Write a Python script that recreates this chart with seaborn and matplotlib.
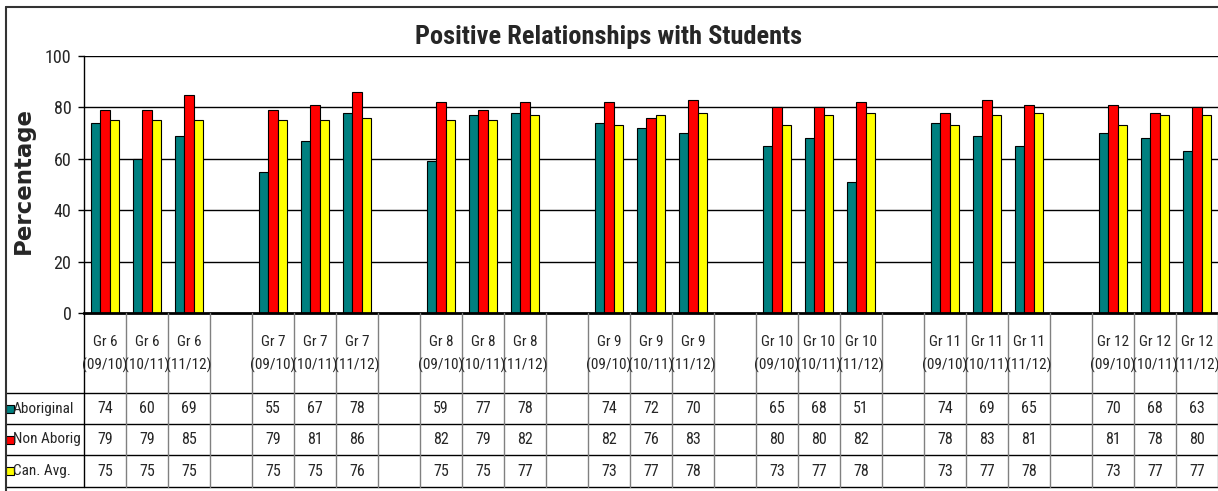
import matplotlib
matplotlib.use("Agg")
import matplotlib.pyplot as plt
from matplotlib.lines import Line2D
import numpy as np
import pandas as pd
import seaborn as sns

# ---- data -------------------------------------------------------------
grades = ["Gr 6", "Gr 7", "Gr 8", "Gr 9", "Gr 10", "Gr 11", "Gr 12"]
years = ["(09/10)", "(10/11)", "(11/12)"]
series = ["Aboriginal", "Non Aborig", "Can. Avg."]

aboriginal = [74, 60, 69, 55, 67, 78, 59, 77, 78, 74, 72, 70,
              65, 68, 51, 74, 69, 65, 70, 68, 63]
non_aborig = [79, 79, 85, 79, 81, 86, 82, 79, 82, 82, 76, 83,
              80, 80, 82, 78, 83, 81, 81, 78, 80]
can_avg = [75, 75, 75, 75, 75, 76, 75, 75, 77, 73, 77, 78,
           73, 77, 78, 73, 77, 78, 73, 77, 77]

colors = ["#008080", "#FF0000", "#FFFF00"]

# ---- build long-form table with blank separator columns ---------------
order = []          # category slots along x (includes empty separators)
labels = []         # two-line header text per slot ('' for separators)
for gi, g in enumerate(grades):
    for y in years:
        key = f"{g}\n{y}"
        order.append(key)
        labels.append(key)
    if gi < len(grades) - 1:
        order.append(f"sep{gi}")
        labels.append("")

real_cats = [f"{g}\n{y}" for g in grades for y in years]
values = {"Aboriginal": aboriginal, "Non Aborig": non_aborig, "Can. Avg.": can_avg}
rows = []
for s in series:
    for c, v in zip(real_cats, values[s]):
        rows.append({"cat": c, "series": s, "value": v})
df = pd.DataFrame(rows)

# ---- figure -----------------------------------------------------------
W, H = 1218, 491
sns.set_style("white")
fig = plt.figure(figsize=(W / 100, H / 100), dpi=100)
narrow = ["Roboto Condensed", "Archivo Narrow", "Liberation Sans"]
narrow_bold = ["Roboto Condensed", "Fira Sans Condensed", "Liberation Sans"]

x_left, x_right, y_top, y_zero, y_tab_bot = 84, 1218, 56, 313, 487
ax = fig.add_axes([x_left / W, (H - y_zero) / H,
                   (x_right - x_left) / W, (y_zero - y_top) / H])

sns.barplot(data=df, x="cat", y="value", hue="series", order=order,
            hue_order=series, palette=colors, width=0.69,
            edgecolor="black", linewidth=0.8, saturation=1,
            legend=False, ax=ax, zorder=3)

ax.set_xlim(-0.5, len(order) - 0.5)
ax.set_ylim(0, 100)
ax.set_yticks([0, 20, 40, 60, 80, 100])
ax.set_yticklabels(["0", "20", "40", "60", "80", "100"],
                   fontfamily=narrow, fontsize=13)
ax.tick_params(axis="y", direction="out", length=4, width=1,
               color="black", pad=5, left=True)
ax.set_xticks([])
ax.set_xlabel("")
ax.set_ylabel("")
for yv in [20, 40, 60, 80, 100]:
    ax.axhline(yv, color="black", lw=1, zorder=1)
for side in ["top", "right"]:
    ax.spines[side].set_visible(False)
ax.spines["left"].set_color("black")
ax.spines["left"].set_linewidth(1)
ax.spines["bottom"].set_color("black")
ax.spines["bottom"].set_linewidth(2)
ax.spines["bottom"].set_zorder(5)

# ---- data table under the chart --------------------------------------
col_px = (x_right - x_left) / len(order)
tab_left = 6
tax = fig.add_axes([tab_left / W, (H - y_tab_bot) / H,
                    (x_right - tab_left) / W, (y_tab_bot - y_zero) / H])
tax.set_xlim(-0.5 - (x_left - tab_left) / col_px, len(order) - 0.5)
tax.set_ylim(y_tab_bot - y_zero, 0)
tax.axis("off")

row_edges = [0, 80, 111, 142, 174]
first_x = -0.5
leg_x0 = tax.get_xlim()[0]
# horizontal rules of the data rows
for yb in row_edges[1:]:
    tax.plot([leg_x0, len(order) - 0.5], [yb, yb], color="black", lw=1,
             clip_on=False)
# vertical rules between columns
tax.plot([first_x, first_x], [0, row_edges[-1]], color="black", lw=1,
         clip_on=False)
for i in range(1, len(order) + 1):
    xb = first_x + i
    tax.plot([xb, xb], [0, row_edges[-1]], color="#808080", lw=1,
             clip_on=False)

# header text
hdr_mid = (row_edges[0] + row_edges[1]) / 2 + 1
for i, lab in enumerate(labels):
    if lab:
        tax.text(i, hdr_mid, lab, ha="center", va="center",
                 fontfamily=narrow, fontsize=11, linespacing=1.75)

# value rows with legend keys
for r, s in enumerate(series):
    ymid = (row_edges[r + 1] + row_edges[r + 2]) / 2
    tax.plot([leg_x0 + 0.085], [ymid], marker="s", ms=6,
             mfc=colors[r], mec="black", mew=0.8, clip_on=False)
    tax.text(leg_x0 + 0.16, ymid, s, ha="left", va="center",
             fontfamily=narrow, fontsize=11)
    vals = values[s]
    k = 0
    for i, lab in enumerate(labels):
        if lab:
            tax.text(i, ymid, str(vals[k]), ha="center", va="center",
                     fontfamily=narrow, fontsize=11.5)
            k += 1

# ---- title, axis label, outer frame ----------------------------------
fig.text(0.5, 1 - 37 / H, "Positive Relationships with Students",
         ha="center", va="center", fontfamily=narrow_bold, fontsize=19,
         fontweight="bold")
fig.text(23 / W, 1 - 181 / H, "Percentage", rotation=90, ha="center",
         va="center", fontfamily=["DejaVu Sans"], fontsize=16.5,
         fontweight="bold")
fig.add_artist(Line2D([6 / W, 6 / W], [0, 1 - 7 / H], color="#333333",
                      lw=1.5, transform=fig.transFigure))
fig.add_artist(Line2D([6 / W, 1], [1 - 7 / H, 1 - 7 / H], color="#333333",
                      lw=1.5, transform=fig.transFigure))

fig.savefig("out.png", dpi=100)
